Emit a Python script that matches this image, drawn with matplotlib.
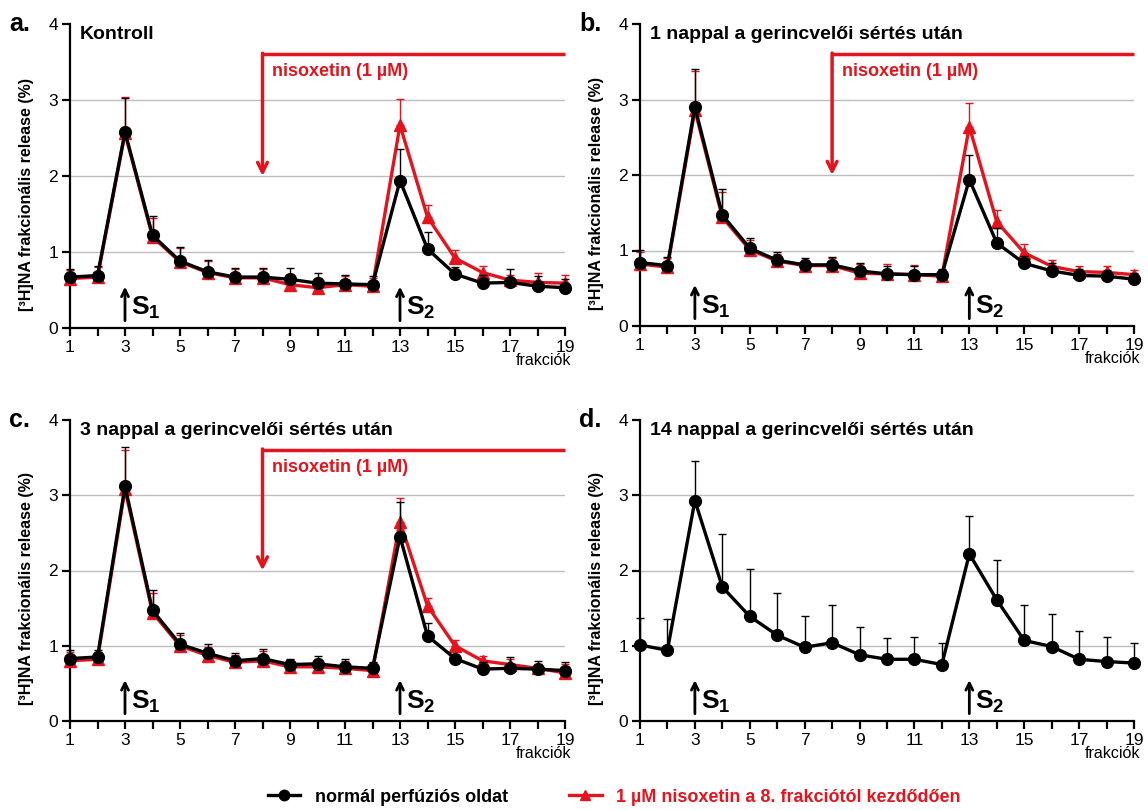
import matplotlib
matplotlib.use("Agg")
import matplotlib.pyplot as plt
from matplotlib.lines import Line2D
import numpy as np

plt.rcParams['font.family'] = ['Liberation Sans', 'DejaVu Sans']
plt.rcParams['mathtext.fontset'] = 'custom'
plt.rcParams['mathtext.rm'] = 'Liberation Sans'
plt.rcParams['mathtext.bf'] = 'Liberation Sans:bold'

fractions = list(range(1, 20))
xtick_labels = [1, 3, 5, 7, 9, 11, 13, 15, 17, 19]

titles = ["Kontroll", "1 nappal a gerincvelői sértés után",
          "3 nappal a gerincvelői sértés után", "14 nappal a gerincvelői sértés után"]
letters = ["a.", "b.", "c.", "d."]

# panel a
a_norm = [0.67, 0.69, 2.58, 1.22, 0.88, 0.74, 0.67, 0.67, 0.64, 0.59, 0.58, 0.57, 1.94, 1.04, 0.71, 0.59, 0.60, 0.55, 0.53]
a_norm_up = [0.78, 0.82, 3.03, 1.47, 1.06, 0.90, 0.79, 0.79, 0.79, 0.73, 0.70, 0.68, 2.35, 1.26, 0.80, 0.70, 0.77, 0.68, 0.65]
a_niso = [0.65, 0.67, 2.56, 1.20, 0.87, 0.73, 0.66, 0.66, 0.57, 0.53, 0.57, 0.55, 2.67, 1.46, 0.92, 0.73, 0.63, 0.60, 0.59]
a_niso_up = [0.76, 0.80, 3.04, 1.45, 1.05, 0.88, 0.78, 0.78, 0.70, 0.66, 0.69, 0.66, 3.01, 1.62, 1.03, 0.82, 0.70, 0.72, 0.70]

# panel b
b_norm = [0.84, 0.80, 2.90, 1.47, 1.03, 0.87, 0.81, 0.81, 0.73, 0.69, 0.68, 0.68, 1.94, 1.10, 0.83, 0.73, 0.67, 0.66, 0.62]
b_norm_up = [1.01, 0.92, 3.40, 1.81, 1.16, 0.98, 0.90, 0.92, 0.83, 0.80, 0.80, 0.76, 2.26, 1.30, 0.93, 0.83, 0.76, 0.74, 0.70]
b_niso = [0.82, 0.78, 2.86, 1.44, 1.01, 0.86, 0.80, 0.80, 0.70, 0.69, 0.68, 0.66, 2.64, 1.38, 0.97, 0.79, 0.72, 0.71, 0.68]
b_niso_up = [0.98, 0.90, 3.38, 1.78, 1.14, 0.96, 0.88, 0.90, 0.82, 0.82, 0.81, 0.74, 2.96, 1.53, 1.08, 0.88, 0.80, 0.80, 0.74]

# panel c
c_norm = [0.83, 0.85, 3.12, 1.47, 1.02, 0.90, 0.80, 0.83, 0.75, 0.76, 0.72, 0.70, 2.45, 1.13, 0.83, 0.69, 0.70, 0.69, 0.67]
c_norm_up = [0.95, 0.95, 3.64, 1.74, 1.17, 1.02, 0.90, 0.96, 0.83, 0.87, 0.83, 0.79, 2.91, 1.30, 0.88, 0.78, 0.85, 0.80, 0.78]
c_niso = [0.80, 0.82, 3.08, 1.44, 1.00, 0.87, 0.78, 0.80, 0.72, 0.72, 0.70, 0.67, 2.65, 1.53, 1.00, 0.80, 0.75, 0.70, 0.64]
c_niso_up = [0.92, 0.92, 3.60, 1.70, 1.14, 0.99, 0.88, 0.93, 0.81, 0.83, 0.80, 0.76, 2.96, 1.64, 1.07, 0.87, 0.82, 0.76, 0.76]

# panel d
d_norm = [1.01, 0.94, 2.93, 1.78, 1.39, 1.14, 0.98, 1.04, 0.88, 0.82, 0.82, 0.75, 2.22, 1.61, 1.07, 0.99, 0.82, 0.79, 0.77]
d_norm_up = [1.37, 1.35, 3.45, 2.49, 2.02, 1.70, 1.40, 1.54, 1.25, 1.10, 1.11, 1.03, 2.72, 2.14, 1.54, 1.42, 1.20, 1.11, 1.03]

panels = [
    (a_norm, a_norm_up, a_niso, a_niso_up),
    (b_norm, b_norm_up, b_niso, b_niso_up),
    (c_norm, c_norm_up, c_niso, c_niso_up),
    (d_norm, d_norm_up, None, None),
]

RED = '#e3141d'
BLACK = '#000000'

fig = plt.figure(figsize=(11.48, 8.10), dpi=100)
W, H = 1148, 810
# axes boxes in pixels: (left, top_y4, right, bottom_y0)
boxes = [(70, 24, 565, 328), (640, 24, 1134, 326), (70, 420, 565, 721), (640, 420, 1134, 721)]

for i, (ax_box, data) in enumerate(zip(boxes, panels)):
    l, t, r, b = ax_box
    ax = fig.add_axes([l / W, 1 - b / H, (r - l) / W, (b - t) / H])
    norm, norm_up, niso, niso_up = data
    x = np.array(fractions)
    ax.set_xlim(1, 19)
    ax.set_ylim(0, 4)
    for gy in (1, 2, 3):
        ax.axhline(gy, color='#bdbdbd', lw=1.0, zorder=0)

    if niso is not None:
        nv = np.array(niso)
        ax.errorbar(x, nv, yerr=[np.zeros_like(nv), np.array(niso_up) - nv], fmt='none',
                    ecolor=RED, elinewidth=1.0, capsize=3, capthick=1.0, zorder=2, clip_on=False)
        ax.plot(x, nv, color=RED, lw=2.4, marker='^', markersize=8, zorder=3, clip_on=False)
    bv = np.array(norm)
    ax.errorbar(x, bv, yerr=[np.zeros_like(bv), np.array(norm_up) - bv], fmt='none',
                ecolor=BLACK, elinewidth=1.0, capsize=3, capthick=1.0, zorder=4, clip_on=False)
    ax.plot(x, bv, color=BLACK, lw=2.4, marker='o', markersize=8.5, zorder=5, clip_on=False)

    for side in ('top', 'right'):
        ax.spines[side].set_visible(False)
    for side in ('left', 'bottom'):
        ax.spines[side].set_linewidth(1.6)
    ax.set_xticks(fractions)
    ax.set_xticklabels([str(v) if v in xtick_labels else '' for v in fractions])
    ax.set_yticks([0, 1, 2, 3, 4])
    ax.tick_params(axis='both', direction='out', length=6, width=1.6, labelsize=12.5, pad=2.5)
    ax.set_ylabel('[³H]NA frakcionális release (%)', fontsize=11.5, fontweight='bold', labelpad=4)
    ax.yaxis.set_label_coords(-0.072, 0.44)

    ax.text(1.012, -0.082, 'frakciók', transform=ax.transAxes, ha='right', va='top', fontsize=11.5)
    ax.text(0.02, 0.965, titles[i], transform=ax.transAxes, ha='left', va='center',
            fontsize=14, fontweight='bold')
    fig.text((l - 61) / W, 1 - (t + 0) / H, letters[i], ha='left', va='center',
             fontsize=18, fontweight='bold')

    # stimulation arrows
    for sx, lab in ((3, r'$\mathbf{S}_\mathbf{1}$'), (13, r'$\mathbf{S}_\mathbf{2}$')):
        ax.annotate('', xy=(sx, 0.58), xytext=(sx, 0.06),
                    arrowprops=dict(arrowstyle='->,head_length=0.5,head_width=0.25', lw=2.0, color=BLACK))
        ax.text(sx + 0.22, 0.26, lab, fontsize=19, ha='left', va='center')

    # nisoxetin bracket
    if niso is not None:
        ax.plot([8, 19], [3.6, 3.6], color=RED, lw=2.5, clip_on=False, solid_capstyle='butt')
        ax.annotate('', xy=(8, 2.0), xytext=(8, 3.6 + 0.015),
                    arrowprops=dict(arrowstyle='->,head_length=0.7,head_width=0.35', lw=2.5, color=RED,
                                    shrinkA=0, shrinkB=0))
        ax.text(8.35, 3.37, 'nisoxetin (1 µM)', color=RED, fontsize=13, fontweight='bold',
                ha='left', va='center')

handles = [Line2D([], [], color=BLACK, lw=2.4, marker='o', markersize=7.5),
           Line2D([], [], color=RED, lw=2.4, marker='^', markersize=7.5)]
leg = fig.legend(handles, ['normál perfúziós oldat', '1 µM nisoxetin a 8. frakciótól kezdődően'],
                 loc='center', bbox_to_anchor=(0.535, 1 - 797 / H), ncol=2, frameon=False,
                 handlelength=1.8, columnspacing=3.4, handletextpad=0.8,
                 prop={'size': 13, 'weight': 'bold'})
leg.get_texts()[1].set_color(RED)

fig.savefig('out.png', dpi=100)
